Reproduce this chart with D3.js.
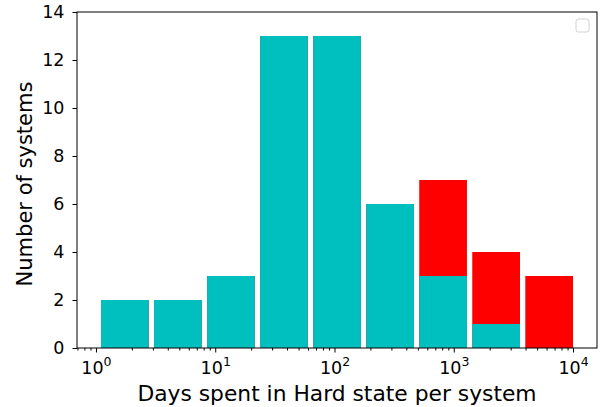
<!DOCTYPE html>
<html>
<head>
<meta charset="utf-8">
<script src="https://cdn.jsdelivr.net/npm/d3@7"></script>
<style>
  body { margin: 0; background: #fff; }
  svg text { font-family: "DejaVu Sans", sans-serif; fill: #000; }
</style>
</head>
<body>
<div id="chart"></div>
<script>
// histogram bins (log10 of days), 9 bins
var binStart = 0.02
var binWidth = 0.4447
var hardCounts = [2, 2, 3, 13, 13, 6, 3, 1, 0]     // cyan
var totalCounts = [2, 2, 3, 13, 13, 6, 7, 4, 3]    // red (stacked total)
var yTicks = [0, 2, 4, 6, 8, 10, 12, 14]
var xMajor = [0, 1, 2, 3, 4]

var W = 606, H = 407
var margin = {left: 77, right: 9, top: 12, bottom: 59}
var w = W - margin.left - margin.right
var h = H - margin.top - margin.bottom

var svg = d3.select('#chart').append('svg').attr('width', W).attr('height', H)
var g = svg.append('g').attr('transform', 'translate(' + margin.left + ',' + margin.top + ')')

var x = d3.scaleLog().domain([Math.pow(10, -0.159), Math.pow(10, 4.201)]).range([0, w])
var y = d3.scaleLinear().domain([0, 14]).range([h, 0])

var bins = totalCounts.map(function(d, i) {
  var lo = binStart + i * binWidth
  return {x0: Math.pow(10, lo + 0.05 * binWidth), x1: Math.pow(10, lo + 0.95 * binWidth), hard: hardCounts[i], total: d}
})

// red first (total), cyan over it
g.selectAll('rect.red').data(bins).enter().append('rect')
  .attr('x', function(d) { return x(d.x0) })
  .attr('width', function(d) { return x(d.x1) - x(d.x0) })
  .attr('y', function(d) { return y(d.total) })
  .attr('height', function(d) { return h - y(d.total) })
  .attr('fill', '#ff0000')

g.selectAll('rect.cyan').data(bins.filter(function(d){ return d.hard > 0 })).enter().append('rect')
  .attr('x', function(d) { return x(d.x0) })
  .attr('width', function(d) { return x(d.x1) - x(d.x0) })
  .attr('y', function(d) { return y(d.hard) })
  .attr('height', function(d) { return h - y(d.hard) })
  .attr('fill', '#00bfbf')

// frame
g.append('rect').attr('width', w).attr('height', h)
  .attr('fill', 'none').attr('stroke', '#000').attr('stroke-width', 1)

// y axis
var yAxis = g.append('g')
  .call(d3.axisLeft(y).tickValues(yTicks).tickSize(4.5).tickPadding(8).tickFormat(d3.format('d')))
yAxis.select('.domain').remove()
yAxis.selectAll('text').style('font-size', '17.5px')

// x axis, minor ticks
var minor = []
for (var e = -1; e < 5; e++) for (var k = 2; k < 10; k++) {
  var v = k * Math.pow(10, e)
  if (v > x.domain()[0] && v < x.domain()[1]) minor.push(v)
}
var xMinor = g.append('g').attr('transform', 'translate(0,' + h + ')')
  .call(d3.axisBottom(x).tickValues(minor).tickSize(2.5).tickFormat(''))
xMinor.select('.domain').remove()

var xAxis = g.append('g').attr('transform', 'translate(0,' + h + ')')
  .call(d3.axisBottom(x).tickValues(xMajor.map(function(p) { return Math.pow(10, p) })).tickSize(4.5).tickFormat(''))
xAxis.select('.domain').remove()

xAxis.selectAll('.tick').each(function(d) {
  var t = d3.select(this).append('text')
    .attr('y', 26).attr('text-anchor', 'middle').style('font-size', '17.5px')
  t.append('tspan').text('10')
  t.append('tspan').attr('dy', -8).style('font-size', '12.5px').text(Math.round(Math.log10(d)))
})

// labels
g.append('text').attr('x', w / 2).attr('y', h + 53).attr('text-anchor', 'middle')
  .style('font-size', '21.8px').text('Days spent in Hard state per system')
g.append('text').attr('transform', 'translate(' + (-45) + ',' + (h / 2 + 4) + ') rotate(-90)')
  .attr('text-anchor', 'middle').style('font-size', '21px').text('Number of systems')

// empty legend box
g.append('rect').attr('x', w - 21).attr('y', 7).attr('width', 13).attr('height', 13)
  .attr('rx', 2.5).attr('fill', '#fff').attr('stroke', '#d0d0d0').attr('stroke-width', 1)
</script>
</body>
</html>
